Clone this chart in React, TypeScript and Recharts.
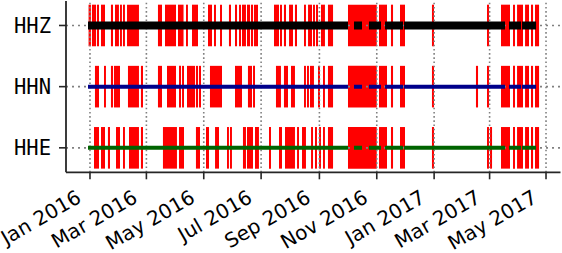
import React from "react";
import {
  ComposedChart,
  Line,
  XAxis,
  YAxis,
  ReferenceArea,
  ReferenceLine,
} from "recharts";

// days counted from 1 Jan 2016
const channels = ["HHE", "HHN", "HHZ"];
const monthTicks = [0, 60, 121, 182, 244, 305, 366, 425, 485];
const monthLabels = [
  "Jan 2016",
  "Mar 2016",
  "May 2016",
  "Jul 2016",
  "Sep 2016",
  "Nov 2016",
  "Jan 2017",
  "Mar 2017",
  "May 2017",
];

// stretches with data (same for all three channels)
const dataSegments: [number, number][] = [
  [-2.1, 274.4],
  [280.8, 289.3],
  [296.7, 309.5],
  [313.8, 332.9],
  [334, 441.4],
  [445.6, 458.4],
  [459.5, 474.4],
];

const hhzGaps: [number, number][] = [
  [-1.5, 1], [2.1, 6.4], [7.4, 9.6], [11.7, 16], [22.3, 24.5], [26.6, 30.8],
  [31.9, 34], [35.1, 37.2], [39.4, 52.1], [72.3, 76.6], [79.8, 91.5],
  [93.6, 99.5], [102.1, 104.2], [108.5, 114.9], [125.5, 129.8], [131.9, 134],
  [138.3, 140.4], [147.8, 150], [154.2, 156.4], [158.5, 160.6], [161.7, 165.9],
  [167, 170.2], [171.2, 173.4], [174.4, 178.7], [195.7, 201], [202.1, 204.2],
  [206.3, 208.5], [211.7, 215.9], [218, 220.2], [227.6, 229.7], [231.9, 236.1],
  [237.2, 239.3], [240.4, 242.5], [245.7, 249.9], [253.1, 258.5], [274.4, 305],
  [307.4, 315.9], [320.1, 322.3], [329.7, 335], [363.7, 365.9], [422.2, 424.4],
  [437.1, 446.7], [449.9, 452], [454.2, 460.5], [462.7, 466.9], [469, 471.2],
  [473.3, 477.6],
];

const hhnGaps: [number, number][] = [
  [5.3, 9.6], [14.9, 17], [22.3, 24.5], [25.5, 31.9], [40.4, 52.1], [54.2, 56.4],
  [72.3, 76.6], [81.9, 91.5], [94.7, 96.8], [97.9, 100], [103.2, 111.7],
  [112.7, 114.9], [115.9, 118.1], [127.6, 140.4], [154.2, 161.7], [168, 172.3],
  [173.4, 175.5], [197.8, 203.1], [206.3, 210.6], [213.8, 218], [227.6, 229.7],
  [230.8, 232.9], [234, 238.2], [242.5, 244.6], [247.8, 249.9], [253.1, 258.5],
  [274.4, 305], [307.4, 315.9], [320.1, 322.3], [329.7, 335], [363.7, 365.9],
  [410.5, 412.7], [422.2, 424.4], [437.1, 446.7], [449.9, 452], [454.2, 460.5],
  [462.7, 466.9], [469, 471.2], [473.3, 477.6],
];

const hheGaps: [number, number][] = [
  [4.3, 9.6], [11.7, 16], [19.1, 21.3], [27.7, 31.9], [35.1, 37.2], [41.5, 52.1],
  [54.2, 56.4], [77.6, 92.5], [94.7, 100], [112.7, 117], [123.4, 126.6],
  [133, 137.2], [145.7, 147.8], [148.9, 151], [162.7, 165.9], [167, 173.4],
  [175.5, 179.7], [190.4, 192.5], [201, 204.2], [207.4, 218], [220.2, 222.3],
  [225.5, 229.7], [235.1, 237.2], [239.3, 241.4], [243.6, 245.7], [247.8, 249.9],
  [253.1, 258.5], [274.4, 305], [307.4, 315.9], [320.1, 322.3], [329.7, 335],
  [363.7, 365.9], [422.2, 424.4], [425.4, 427.6], [437.1, 446.7], [449.9, 452],
  [454.2, 460.5], [462.7, 466.9], [469, 471.2], [473.3, 477.6],
];

const gapsByRow = [hheGaps, hhnGaps, hhzGaps];
const lineColors = ["#006400", "#00008b", "#000000"];
const lineWidths = [4, 4, 8];

const AXIS = "#262626";
const GRID = "#808080";

// points for one channel, null between segments so the line breaks
const rowPoints = (row: number) => {
  const pts: { day: number; v: number | null }[] = [];
  dataSegments.forEach(([s, e]) => {
    pts.push({ day: s, v: row });
    pts.push({ day: e, v: row });
    pts.push({ day: e + 0.05, v: null });
  });
  return pts;
};

const MonthTick = (props: any) => {
  const { x, y, payload } = props;
  const label = monthLabels[monthTicks.indexOf(payload.value)];
  const ax = x - 7.5;
  const ay = y + 22;
  return (
    <text
      x={ax}
      y={ay}
      textAnchor="end"
      transform={`rotate(-30, ${ax}, ${ay})`}
      fontFamily="DejaVu Sans"
      fontSize={20}
      fill="#000"
    >
      {label}
    </text>
  );
};

const ChannelTick = (props: any) => {
  const { x, y, payload } = props;
  return (
    <text
      x={x}
      y={y}
      dy="0.36em"
      textAnchor="end"
      fontFamily="DejaVu Sans Mono"
      fontSize={20.5}
      fill="#000"
    >
      {channels[payload.value]}
    </text>
  );
};

export default function App() {
  return (
    <div style={{ position: "absolute", left: 0, top: 0, background: "#fff" }}>
      <ComposedChart
        width={562}
        height={253}
        margin={{ top: 1, right: 1.5, bottom: 0, left: 0 }}
      >
        <XAxis
          type="number"
          dataKey="day"
          domain={[-25.5, 500.4]}
          allowDataOverflow
          ticks={monthTicks}
          interval={0}
          height={80.7}
          tickSize={7}
          tickMargin={0}
          tick={<MonthTick />}
          axisLine={{ stroke: AXIS, strokeWidth: 1.8 }}
          tickLine={{ stroke: AXIS, strokeWidth: 1.6 }}
        />
        <XAxis
          xAxisId="top"
          orientation="top"
          type="number"
          domain={[-25.5, 500.4]}
          height={0}
          tick={false}
          tickLine={false}
          axisLine={{ stroke: AXIS, strokeWidth: 1.8 }}
        />
        <YAxis
          type="number"
          domain={[-0.4, 2.4]}
          allowDataOverflow
          ticks={[0, 1, 2]}
          interval={0}
          width={66}
          tickSize={7}
          tickMargin={8}
          tick={<ChannelTick />}
          axisLine={{ stroke: AXIS, strokeWidth: 1.8 }}
          tickLine={{ stroke: AXIS, strokeWidth: 1.6 }}
        />
        <YAxis
          yAxisId="right"
          orientation="right"
          type="number"
          domain={[-0.4, 2.4]}
          width={0}
          tick={false}
          tickLine={false}
          axisLine={{ stroke: AXIS, strokeWidth: 1.8 }}
        />

        {[0, 1, 2].map((row) => (
          <ReferenceLine
            key={`h${row}`}
            y={row}
            stroke={GRID}
            strokeWidth={1.6}
            strokeDasharray="2 4"
          />
        ))}

        {gapsByRow.map((gaps, row) =>
          gaps.map(([s, e], i) => (
            <ReferenceArea
              key={`g${row}-${i}`}
              x1={s}
              x2={e}
              y1={row - 0.34}
              y2={row + 0.34}
              fill="#ff0000"
              fillOpacity={1}
              stroke="none"
            />
          ))
        )}

        {monthTicks.map((t) => (
          <ReferenceLine
            key={`v${t}`}
            x={t}
            stroke={GRID}
            strokeWidth={1.6}
            strokeDasharray="1.6 2.6"
          />
        ))}

        {[0, 1, 2].map((row) => (
          <Line
            key={`line${row}`}
            data={rowPoints(row)}
            dataKey="v"
            type="linear"
            stroke={lineColors[row]}
            strokeWidth={lineWidths[row]}
            strokeLinecap="butt"
            dot={false}
            activeDot={false}
            connectNulls={false}
            isAnimationActive={false}
          />
        ))}
      </ComposedChart>
    </div>
  );
}
